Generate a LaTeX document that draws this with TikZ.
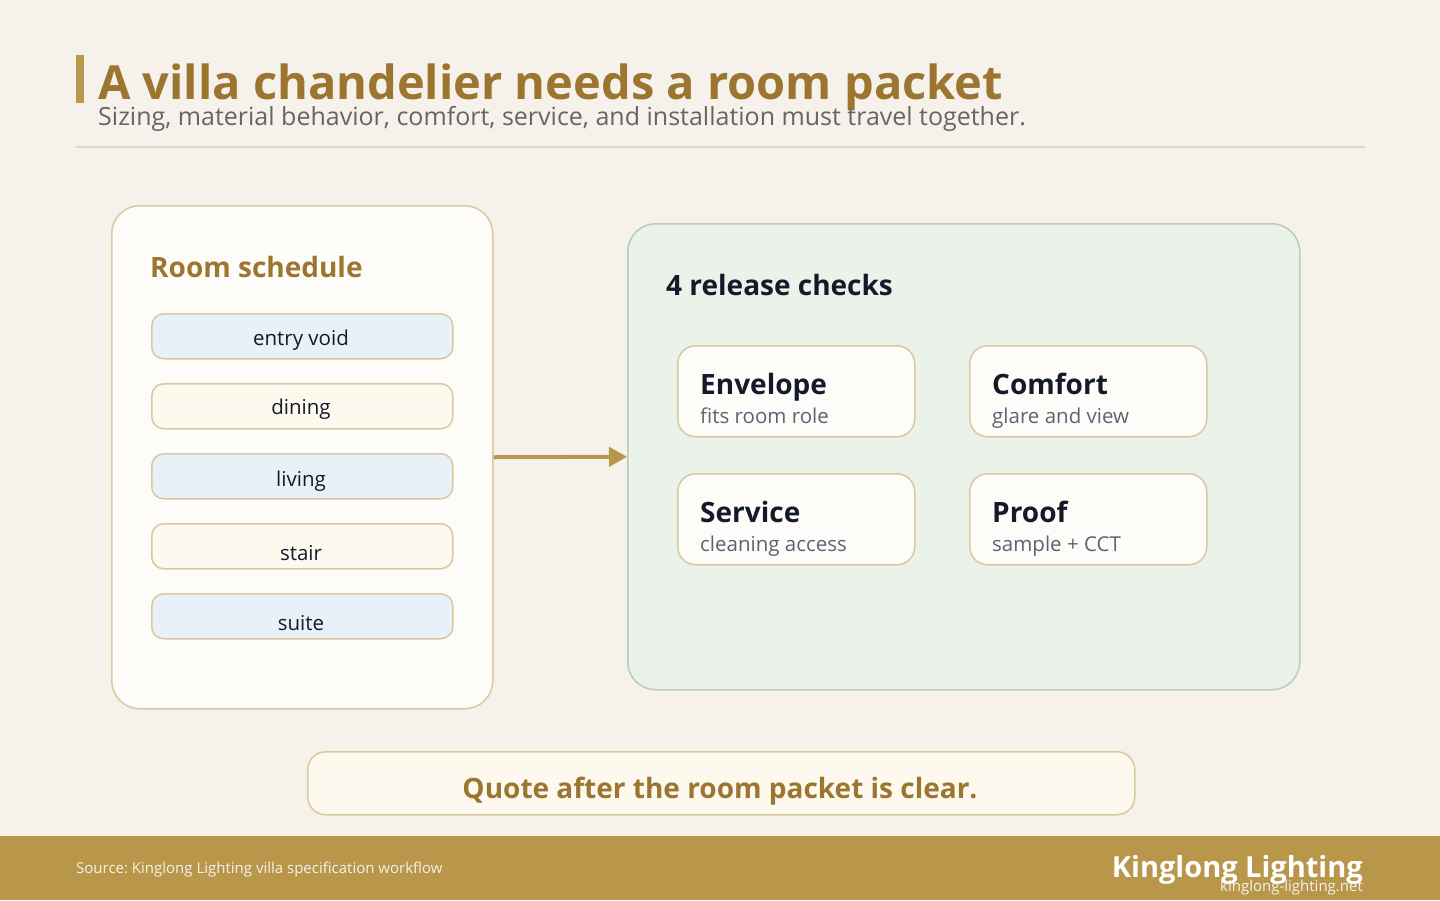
\documentclass[tikz,border=0pt]{standalone}
\usepackage{fontspec}
\setmainfont{Open Sans}
\usepackage{tikz}
\usetikzlibrary{arrows.meta,positioning}
\definecolor{fondo}{HTML}{F6F2EB}
\definecolor{oro}{HTML}{B8964A}
\definecolor{orooscuro}{HTML}{9C7631}
\definecolor{borde}{HTML}{D9C9A0}
\definecolor{crema}{HTML}{FDF9EF}
\definecolor{papel}{HTML}{FEFCF8}
\definecolor{azul}{HTML}{E9F1F8}
\definecolor{salvia}{HTML}{EAF2EA}
\definecolor{salviaborde}{HTML}{B9CDB5}
\definecolor{tinta}{HTML}{131A2A}
\definecolor{gris}{HTML}{5B6472}
\definecolor{grissub}{HTML}{66655F}
\definecolor{linea}{HTML}{E2D6C2}
\frenchspacing

\begin{document}
\begin{tikzpicture}[x=1pt,y=-1pt,
  panel/.style={draw=borde,line width=1.5pt,fill=papel,rounded corners=28pt,anchor=north west,inner sep=0pt},
  sala/.style={draw=borde,line width=1.5pt,rounded corners=12pt,anchor=north west,minimum width=301pt,minimum height=45pt,inner sep=0pt},
  salatxt/.style={anchor=base,inner sep=0pt,text=tinta,font=\fontsize{20.5}{24}\selectfont},
  tarjeta/.style={draw=borde,line width=1.5pt,fill=papel,rounded corners=18pt,anchor=north west,minimum width=237pt,minimum height=91pt,inner sep=0pt},
  cabeza/.style={anchor=base west,inner sep=0pt,font=\fontsize{28}{32}\selectfont\bfseries},
  nota/.style={anchor=base west,inner sep=0pt,text=gris,font=\fontsize{20.5}{24}\selectfont}]
\fill[fondo] (0,0) rectangle (1440,900);
% cabecera
\fill[oro] (76,55) rectangle (84,103);
\node[anchor=base west,inner sep=0pt,text=orooscuro,font=\fontsize{47}{52}\selectfont\bfseries] (titulo) at (98,99) {A villa chandelier needs a room packet};
\node[anchor=base west,inner sep=0pt,text=grissub,font=\fontsize{25}{28}\selectfont] (subtitulo) at (98,125) {Sizing, material behavior, comfort, service, and installation must travel together.};
\draw[linea,line width=1.5pt] (76,147) -- (1365,147);
% horario de salas
\node[panel,minimum width=381pt,minimum height=503pt] (horario) at (111,205) {};
\node[cabeza,text=orooscuro] (horariotit) at (150,277) {Room schedule};
\foreach \i/\y/\b/\t/\c in {1/313/345/entry void/azul, 2/383/414/dining/crema, 3/453/486/living/azul, 4/523/560/stair/crema, 5/593/630/suite/azul}{
  \node[sala,fill=\c] (sala\i) at (151,\y) {};
  \node[salatxt] (sala\i txt) at (301,\b) {\t};
}
% chequeos
\node[panel,draw=salviaborde,fill=salvia,minimum width=672pt,minimum height=466pt] (chequeos) at (627,223) {};
\node[cabeza,text=tinta] (chequeostit) at (666,295) {4 release checks};
\foreach \n/\x/\y/\a/\b in {envol/677/345/Envelope/fits room role, confort/969/345/Comfort/glare and view, servicio/677/473/Service/cleaning access, prueba/969/473/Proof/sample + CCT}{
  \node[tarjeta] (\n) at (\x,\y) {};
  \node[cabeza,text=tinta] (\n tit) at (\x+23,\y+49) {\a};
  \node[nota] (\n sub) at (\x+23,\y+78) {\b};
}
\draw[oro,line width=4pt,-{Triangle[length=18pt,width=19pt]}] (horario.east) -- (chequeos.west);
% cierre
\node[draw=borde,line width=1.5pt,fill=crema,rounded corners=18pt,anchor=north west,minimum width=827pt,minimum height=63pt,inner sep=0pt] (cierre) at (307,751) {};
\node[anchor=base,inner sep=0pt,text=orooscuro,font=\fontsize{28}{32}\selectfont\bfseries] (cierretxt) at (720,798) {Quote after the room packet is clear.};
% pie
\fill[oro] (0,836) rectangle (1440,900);
\node[anchor=base west,inner sep=0pt,text=fondo,font=\fontsize{15}{18}\selectfont] (fuente) at (76,873) {Source: Kinglong Lighting villa specification workflow};
\node[anchor=base east,inner sep=0pt,text=white,font=\fontsize{29}{32}\selectfont\bfseries] (marca) at (1363,877) {Kinglong Lighting};
\node[anchor=base east,inner sep=0pt,text=fondo,font=\fontsize{15}{18}\selectfont] (web) at (1363,891) {kinglong-lighting.net};
\end{tikzpicture}
\end{document}
